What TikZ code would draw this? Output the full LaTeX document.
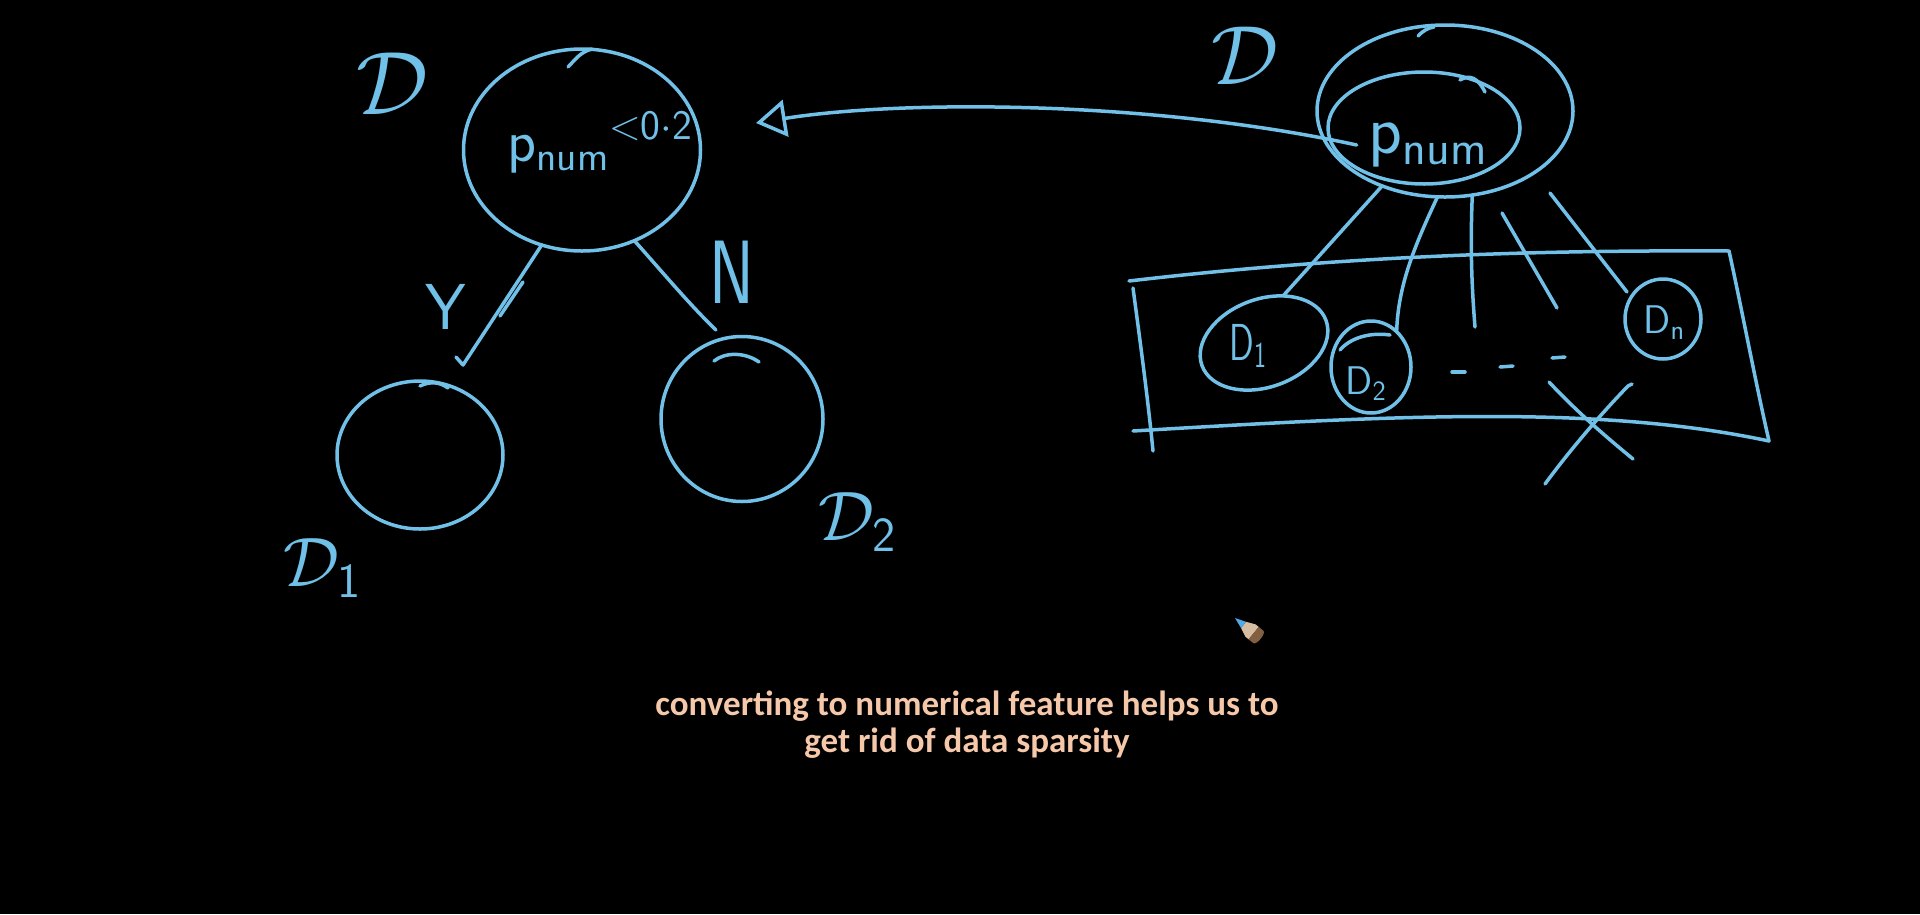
\documentclass[tikz,border=0pt]{standalone}
\usepackage{fix-cm}
\usepackage{fontspec}
\newfontfamily\capfont{Carlito}
\usetikzlibrary{arrows.meta,shapes.geometric}
\definecolor{ink}{RGB}{112,192,232}
\definecolor{capcol}{RGB}{246,200,170}
\definecolor{penblue}{RGB}{80,170,230}
\definecolor{penwood}{RGB}{215,190,160}
\definecolor{penbrown}{RGB}{130,95,65}
\begin{document}
\begin{tikzpicture}[x=1pt,y=-1pt,
  stroke/.style={draw=ink,line width=3.5pt,line cap=round,line join=round},
  blob/.style={ellipse,draw=ink,line width=3.5pt,inner sep=0pt,outer sep=0pt},
  hand/.style={text=ink,inner sep=0pt},
  hs/.style={font=\fontsize{#1}{#1}\selectfont\sffamily}]
\fill[black] (0,0) rectangle (1920,914);

% ---------- left tree ----------
\node[hand,hs=90] (dleft) at (392,84) {$\mathcal{D}$};
\node[blob,minimum width=237pt,minimum height=202pt] (root) at (582,150) {};
\draw[stroke] (568,67) .. controls (575,60) and (580,52) .. (592,49);
\node[hand,hs=60] (rootlab) at (600,142) {$\mathsf{p}_{\mathsf{num}}{}^{<\mathsf{0{\cdot}2}}$};

\node[blob,minimum width=166pt,minimum height=148pt] (c1) at (420,455) {};
\draw[stroke] (420,386) .. controls (430,381) and (440,382) .. (448,388);
\node[blob,minimum width=162pt,minimum height=165pt] (c2) at (742,419) {};
\draw[stroke] (714,361) .. controls (725,352) and (745,352) .. (759,362);

\node[hand,hs=70] (d1lab) at (322,568) {$\mathcal{D}_{\mathsf{1}}$};
\node[hand,hs=70] (d2lab) at (857,522) {$\mathcal{D}_{\mathsf{2}}$};

\node[hand,hs=65] (ylab) at (446,307) {Y};
\node[hand,hs=90,xscale=0.75] (nlab) at (732,272) {N};

\coordinate (yend) at (463,365);
\draw[stroke] (root.247) -- (yend) -- ++(-7,-8);
\draw[stroke] (523,282) -- (500,316);
\coordinate (nend) at (716,330);
\draw[stroke] (root.300) .. controls (665,275) and (690,305) .. (nend);

% ---------- right part ----------
\node[hand,hs=84] (dright) at (1245,56) {$\mathcal{D}$};
\node[blob,minimum width=256pt,minimum height=172pt] (outer) at (1445,111) {};
\node[blob,minimum width=192pt,minimum height=112pt] (inner) at (1424,128) {};
\draw[stroke] (1418,36) .. controls (1424,30) and (1428,28) .. (1434,27);
\draw[stroke] (1460,80) .. controls (1470,74) and (1478,78) .. (1485,92);
\node[hand,hs=70] (pnum) at (1428,145) {$\mathsf{p}_{\mathsf{num}}$};

\coordinate (tip) at (756,123);
\draw[stroke,-{Triangle[open,length=30pt,width=37pt]}] ([xshift=-12pt]pnum.west) .. controls (1150,100) and (900,100) .. (tip);

% box
\draw[stroke] (1129,281) .. controls (1350,255) and (1550,250) .. (1729,251);
\draw[stroke] (1729,251) .. controls (1742,310) and (1755,380) .. (1769,441);
\draw[stroke] (1133,431) .. controls (1400,415) and (1600,405) .. (1769,441);
\draw[stroke] (1133,288) .. controls (1140,340) and (1148,400) .. (1153,451);

\node[blob,minimum width=132pt,minimum height=88pt,rotate=20] (d1) at (1264,343) {};
\node[hand,hs=52,xscale=0.7] (d1t) at (1248,346) {$\mathsf{D}_{\mathsf{1}}$};
\node[blob,minimum width=80pt,minimum height=92pt] (d2) at (1371,367) {};
\draw[stroke] (1340,350) .. controls (1350,338) and (1370,332) .. (1390,335);
\node[hand,hs=40] (d2t) at (1366,384) {$\mathsf{D}_{\mathsf{2}}$};
\node[blob,minimum width=76pt,minimum height=80pt] (dn) at (1663,319) {};
\node[hand,hs=40] (dnt) at (1664,323) {$\mathsf{D}_{\mathsf{n}}$};

\draw[stroke] (outer.230) -- (d1.48);
\draw[stroke] (outer.265) .. controls (1415,245) and (1398,285) .. (d2.54);
\coordinate (l3e) at (1475,327);
\draw[stroke] (outer.288) .. controls (1470,250) and (1472,290) .. (l3e);
\coordinate (l4s) at (1502,213);
\coordinate (l4e) at (1557,308);
\draw[stroke] (l4s) -- (l4e);
\coordinate (l5s) at (1550,193);
\coordinate (l5e) at (1627,292);
\draw[stroke] (l5s) -- (l5e);

% dashes
\draw[stroke] (1452,372) -- (1465,372);
\draw[stroke] (1500,367) -- (1513,366);
\draw[stroke] (1552,358) -- (1565,357);

% cross
\draw[stroke] (1549,382) .. controls (1580,415) and (1610,440) .. (1633,459);
\draw[stroke] (1632,384) -- (1628,386) .. controls (1600,415) and (1570,450) .. (1545,484);

% pencil cursor
\begin{scope}[shift={(1235,618)},rotate=-39]
\fill[penwood] (11,4) -- (20,8) -- (24,8) -- (24,-8) -- (20,-8) -- (11,-4) -- cycle;
\fill[penbrown] (24,8) -- (30,8) .. controls (34,8) and (34,-8) .. (30,-8) -- (24,-8) -- cycle;
\fill[penblue] (0,0) -- (11,4) -- (11,-4) -- cycle;
\end{scope}

% caption
\node[text=capcol,font={\fontsize{35}{37}\selectfont\capfont\bfseries},align=center] (cap) at (967,725) {converting to numerical feature helps us to\\get rid of data sparsity};
\end{tikzpicture}
\end{document}
